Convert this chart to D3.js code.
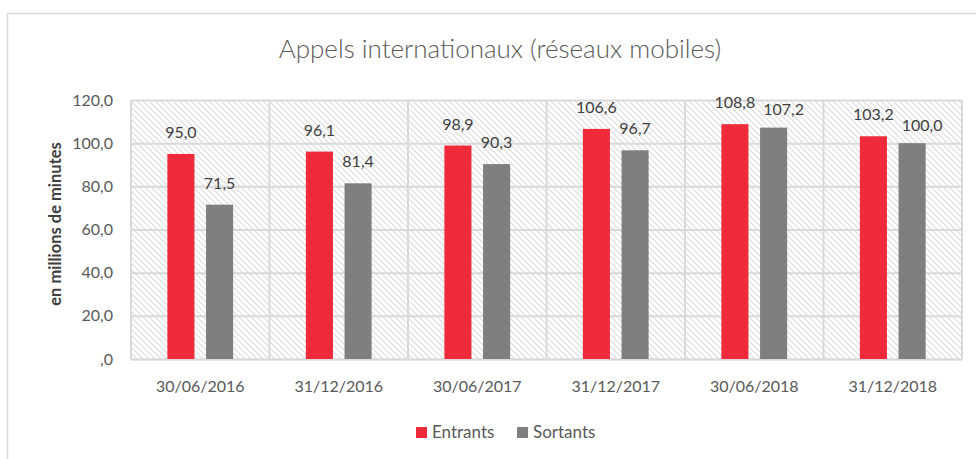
<!DOCTYPE html>
<html>
<head>
<meta charset="utf-8">
<script src="https://cdn.jsdelivr.net/npm/d3@7"></script>
<style>
  body { margin: 0; background: #fff; }
  svg text { font-family: Lato, "Open Sans", sans-serif; }
</style>
</head>
<body>
<div id="container"></div>
<script>
const categories = ['30/06/2016', '31/12/2016', '30/06/2017', '31/12/2017', '30/06/2018', '31/12/2018'];
const entrants = [95.0, 96.1, 98.9, 106.6, 108.8, 103.2];
const sortants = [71.5, 81.4, 90.3, 96.7, 107.2, 100.0];
const seriesNames = ['Entrants', 'Sortants'];
const yTicks = [0, 20, 40, 60, 80, 100, 120];

const width = 976;
const height = 459;
const plot = { left: 131, right: 962, top: 100, bottom: 359 };
const colors = { Entrants: '#EE2A3B', Sortants: '#7F7F7F' };

const fmt = (v) => v === 0 ? ',0' : v.toFixed(1).replace('.', ',');

const dataset = categories.map((c, i) => ({ cat: c, i: i, Entrants: entrants[i], Sortants: sortants[i] }));

// labels moved by hand in the original so they don't collide
const nudge = (d) => (d.key === 'Sortants' && d.i >= 4) ? { dx: 10, dy: 3.5 } : { dx: 0, dy: 0 };

const svg = d3.select('#container')
    .append('svg')
    .attr('width', width)
    .attr('height', height);

// hatch pattern for plot background
const defs = svg.append('defs');
const pat = defs.append('pattern')
    .attr('id', 'hatch')
    .attr('patternUnits', 'userSpaceOnUse')
    .attr('width', 6)
    .attr('height', 6);
pat.append('rect').attr('width', 6).attr('height', 6).attr('fill', '#fff');
pat.append('path')
    .attr('d', 'M0,0 L6,6 M-1,5 L1,7 M5,-1 L7,1')
    .attr('stroke', '#DDDDDD')
    .attr('stroke-width', 1.2);

// chart border
svg.append('rect')
    .attr('x', 7.5)
    .attr('y', 13.5)
    .attr('width', 975)
    .attr('height', 470)
    .attr('fill', 'none')
    .attr('stroke', '#D9D9D9')
    .attr('stroke-width', 1.5);

const x0 = d3.scaleBand()
    .domain(categories)
    .range([plot.left, plot.right])
    .padding(0);

const x1 = d3.scaleBand()
    .domain(seriesNames)
    .range([0, x0.bandwidth()])
    .paddingInner(0.3)
    .paddingOuter(0.94);

const yScale = d3.scaleLinear()
    .domain([0, 120])
    .range([plot.bottom, plot.top]);

svg.append('rect')
    .attr('x', plot.left)
    .attr('y', plot.top)
    .attr('width', plot.right - plot.left)
    .attr('height', plot.bottom - plot.top)
    .attr('fill', 'url(#hatch)');

// horizontal gridlines
const yAxis = d3.axisLeft(yScale)
    .tickValues(yTicks)
    .tickFormat(fmt)
    .tickSize(-(plot.right - plot.left))
    .tickPadding(18);

svg.append('g')
    .attr('id', 'y-axis')
    .attr('transform', 'translate(' + plot.left + ',0)')
    .call(yAxis)
    .call((g) => g.select('.domain').remove())
    .call((g) => g.selectAll('line').attr('stroke', '#D9D9D9').attr('stroke-width', 2))
    .call((g) => g.selectAll('text').attr('fill', '#595959').style('font-size', '16px'));

// vertical separators between categories
const seps = categories.map((c) => x0(c)).concat([plot.right]);
svg.append('g')
    .selectAll('line')
    .data(seps)
    .enter()
    .append('line')
    .attr('x1', (d) => d)
    .attr('x2', (d) => d)
    .attr('y1', plot.top)
    .attr('y2', plot.bottom)
    .attr('stroke', '#D9D9D9')
    .attr('stroke-width', 2);

const xAxis = d3.axisBottom(x0).tickSize(0).tickPadding(22);
svg.append('g')
    .attr('id', 'x-axis')
    .attr('transform', 'translate(0,' + plot.bottom + ')')
    .call(xAxis)
    .call((g) => g.select('.domain').attr('stroke', '#D9D9D9').attr('stroke-width', 2))
    .call((g) => g.selectAll('text').attr('fill', '#595959').style('font-size', '16px'));

// bars
const groups = svg.append('g')
    .selectAll('g')
    .data(dataset)
    .enter()
    .append('g')
    .attr('transform', (d) => 'translate(' + x0(d.cat) + ',0)');

const cells = (d) => seriesNames.map((k) => ({ key: k, value: d[k], i: d.i }));

groups.selectAll('rect')
    .data(cells)
    .enter()
    .append('rect')
    .attr('x', (d) => x1(d.key))
    .attr('y', (d) => yScale(d.value))
    .attr('width', x1.bandwidth())
    .attr('height', (d) => yScale(0) - yScale(d.value))
    .style('fill', (d) => colors[d.key]);

groups.selectAll('text')
    .data(cells)
    .enter()
    .append('text')
    .attr('x', (d) => x1(d.key) + x1.bandwidth() / 2 + nudge(d).dx)
    .attr('y', (d) => yScale(d.value) - 16 + nudge(d).dy)
    .attr('text-anchor', 'middle')
    .attr('fill', '#404040')
    .style('font-size', '16px')
    .text((d) => fmt(d.value));

// title
svg.append('text')
    .attr('x', 500)
    .attr('y', 58)
    .attr('text-anchor', 'middle')
    .attr('fill', '#595959')
    .style('font-size', '26px')
    .style('font-weight', 300)
    .text('Appels internationaux (réseaux mobiles)');

// y axis title
svg.append('text')
    .attr('transform', 'translate(61,224) rotate(-90)')
    .attr('text-anchor', 'middle')
    .attr('fill', '#404040')
    .style('font-size', '16.5px')
    .style('font-weight', 'bold')
    .text('en millions de minutes');

// legend
const legend = svg.append('g')
    .selectAll('g')
    .data(seriesNames)
    .enter()
    .append('g')
    .attr('transform', (d, i) => 'translate(' + (416 + i * 101) + ',427)');

legend.append('rect')
    .attr('width', 11)
    .attr('height', 11)
    .style('fill', (d) => colors[d]);

legend.append('text')
    .attr('x', 16)
    .attr('y', 10.5)
    .attr('fill', '#595959')
    .style('font-size', '17px')
    .text((d) => d);
</script>
</body>
</html>
